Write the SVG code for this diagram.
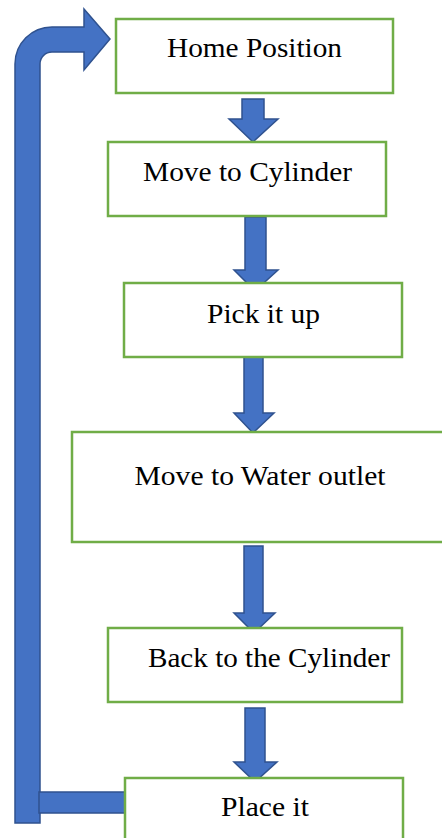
<svg xmlns="http://www.w3.org/2000/svg" width="442" height="838" viewBox="0 0 442 838">
  <style>
    .box { fill: #ffffff; stroke: #70AD47; stroke-width: 2.5; }
    .label { font-family: "Liberation Serif", "Times New Roman", serif; font-size: 28px; fill: #000000; text-anchor: middle; }
    .arrow { fill: #4472C4; stroke: #2F528F; stroke-width: 1.5; stroke-linejoin: miter; }
  </style>
  <rect width="442" height="838" fill="#ffffff"/>

  <!-- connectors: block arrows -->
  <g id="connectors">
    <!-- return path from "Place it" back to "Home Position" -->
    <path class="arrow" d="M15,823 L15,64 A37,37 0 0 1 52,27 L84,27 L84,9 L110,39 L84,70 L84,52 L52,52 A12,12 0 0 0 40,64 L40,823 Z"/>
    <rect class="arrow" x="39" y="792" width="86" height="21"/>
    <!-- downward arrows between steps -->
    <path class="arrow" d="M242,99 L264,99 L264,119 L278,119 L253,142 L229,119 L242,119 Z"/>
    <path class="arrow" d="M245,217 L266,217 L266,270 L278,270 L255,291 L234,270 L245,270 Z"/>
    <path class="arrow" d="M244,357 L263,357 L263,413 L274,413 L253,433 L234,413 L244,413 Z"/>
    <path class="arrow" d="M244,546 L263,546 L263,613 L275,613 L254,633 L234,613 L244,613 Z"/>
    <path class="arrow" d="M245,708 L265,708 L265,762 L277,762 L255,782 L234,762 L245,762 Z"/>
  </g>

  <g id="home">
    <rect class="box" x="116" y="19" width="277" height="74"/>
    <text class="label" x="254.5" y="57" textLength="175" lengthAdjust="spacingAndGlyphs">Home Position</text>
  </g>
  <g id="move-cylinder">
    <rect class="box" x="108" y="142" width="278" height="74"/>
    <text class="label" x="247.5" y="181" textLength="209" lengthAdjust="spacingAndGlyphs">Move to Cylinder</text>
  </g>
  <g id="pick">
    <rect class="box" x="124" y="283" width="278" height="74"/>
    <text class="label" x="263.5" y="323" textLength="113" lengthAdjust="spacingAndGlyphs">Pick it up</text>
  </g>
  <g id="water-outlet">
    <rect class="box" x="72" y="432" width="380" height="110"/>
    <text class="label" x="260" y="485" textLength="251" lengthAdjust="spacingAndGlyphs">Move to Water outlet</text>
  </g>
  <g id="back-cylinder">
    <rect class="box" x="108" y="628" width="294" height="74"/>
    <text class="label" x="269" y="667" textLength="242" lengthAdjust="spacingAndGlyphs">Back to the Cylinder</text>
  </g>
  <g id="place">
    <rect class="box" x="125" y="778" width="278" height="80"/>
    <text class="label" x="265" y="816" textLength="88" lengthAdjust="spacingAndGlyphs">Place it</text>
  </g>
</svg>
